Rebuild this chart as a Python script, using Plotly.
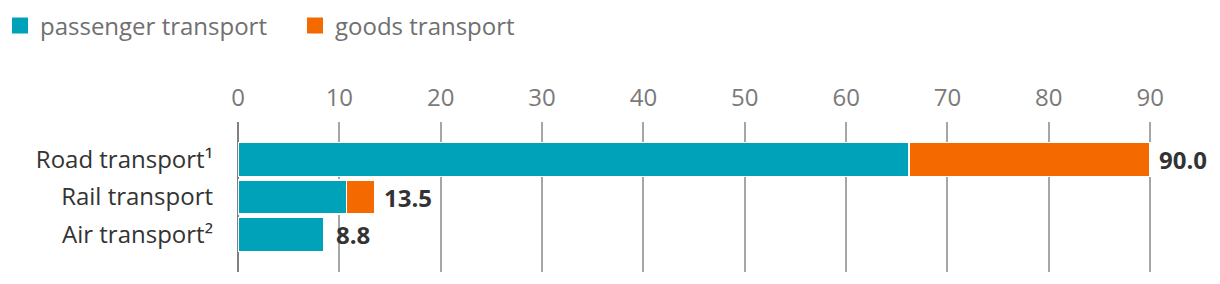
import plotly.graph_objects as go

categories = ["Road transport¹", "Rail transport", "Air transport²"]
passenger = [66.2, 10.7, 8.5]
goods = [23.8, 2.8, 0.0]
totals = [90.0, 13.5, 8.8]
total_labels = ["90.0", "13.5", "8.8"]
tick_vals = [0, 10, 20, 30, 40, 50, 60, 70, 80, 90]

TEAL = "#00a2b9"
ORANGE = "#f46a00"
FONT = "Open Sans"
FS = 24

fig = go.Figure()
fig.add_trace(go.Bar(y=categories, x=passenger, orientation="h", marker=dict(color=TEAL, line=dict(color="white", width=1.5)),
                     showlegend=False, hoverinfo="skip"))
fig.add_trace(go.Bar(y=categories, x=goods, orientation="h", marker=dict(color=ORANGE, line=dict(color="white", width=1.5)),
                     showlegend=False, hoverinfo="skip"))
# legend entries
fig.add_trace(go.Scatter(x=[None], y=[None], mode="markers", name="passenger transport",
                         marker=dict(symbol="square", size=16, color=TEAL)))
fig.add_trace(go.Scatter(x=[None], y=[None], mode="markers", name="goods transport",
                         marker=dict(symbol="square", size=16, color=ORANGE)))

for c, t, lab in zip(categories, totals, total_labels):
    fig.add_annotation(x=t, y=c, text="<b>" + lab + "</b>", showarrow=False, xanchor="left", xshift=7,
                       font=dict(family=FONT, size=FS, color="#333333"))

fig.update_layout(
    width=1220, height=284,
    margin=dict(l=238, r=9, t=122, b=12),
    barmode="stack", bargap=0.1,
    plot_bgcolor="white", paper_bgcolor="white",
    font=dict(family=FONT, size=FS, color="#333333"),
    legend=dict(orientation="h", xref="container", yref="container", x=0, y=0.988, xanchor="left", yanchor="top",
                font=dict(family=FONT, size=FS, color="#707070"), itemwidth=30, traceorder="normal",
                entrywidth=250, entrywidthmode="pixels"),
    xaxis=dict(side="top", range=[0, 96], tickvals=tick_vals, showgrid=True, gridcolor="#a6a6a6", gridwidth=2,
               zeroline=True, zerolinecolor="#808080", zerolinewidth=2, ticklabelstandoff=10,
               tickfont=dict(family=FONT, size=FS, color="#7a7a7a"), showline=False, fixedrange=True),
    yaxis=dict(autorange=False, range=[3, -1], showgrid=False, zeroline=False, ticklabelstandoff=24,
               tickfont=dict(family=FONT, size=FS, color="#333333"), fixedrange=True),
)

fig.write_html("out.html")
